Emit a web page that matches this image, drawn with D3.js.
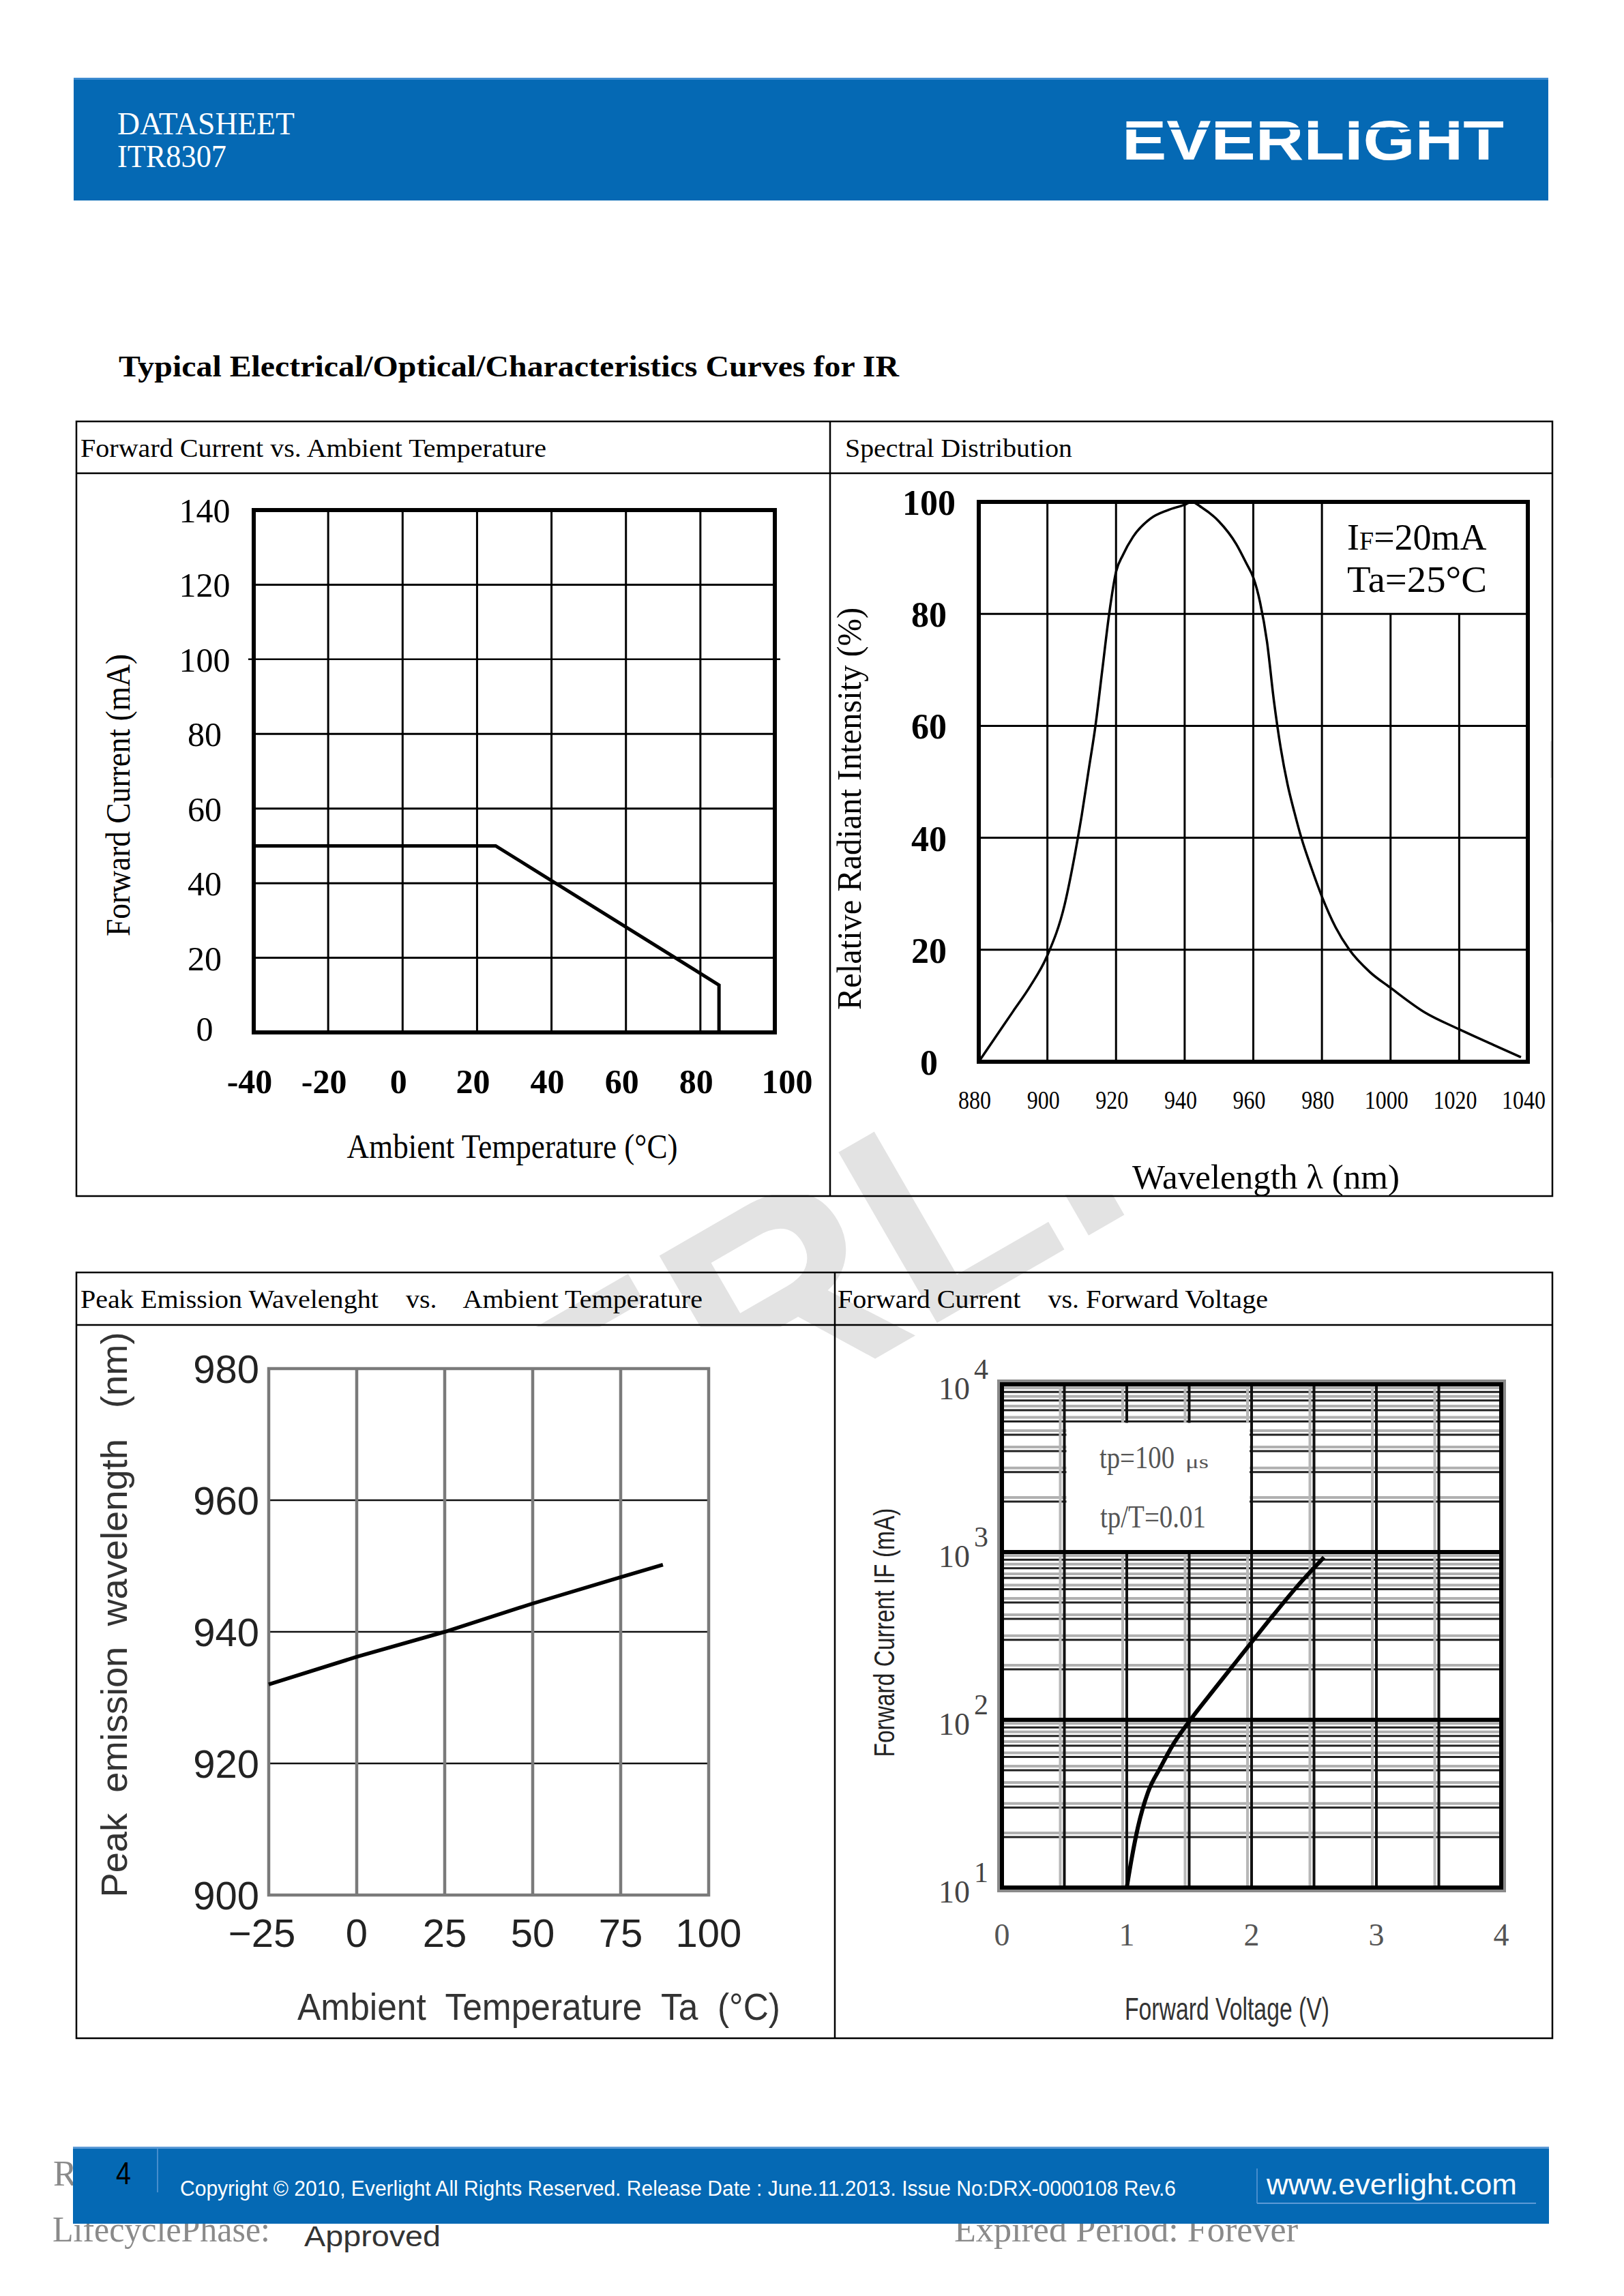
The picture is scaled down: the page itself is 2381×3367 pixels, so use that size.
<!DOCTYPE html>
<html><head><meta charset="utf-8">
<script src="https://cdn.jsdelivr.net/npm/d3@7"></script>
<style>body{margin:0;background:#fff}svg{display:block}text{white-space:pre}</style>
</head><body>
<svg id="page" width="2381" height="3367" xmlns="http://www.w3.org/2000/svg"></svg>
<script>
// ---------------- DATA ----------------
// Chart 1: Forward Current vs. Ambient Temperature
const fcTempTicksX = [-40, -20, 0, 20, 40, 60, 80, 100];
const fcTempTicksY = [0, 20, 40, 60, 80, 100, 120, 140];
const fcTempCurve = [[-40, 50], [25, 50], [85, 12.7], [85, 0]];
// Chart 2: Spectral Distribution
const specTicksX = [880, 900, 920, 940, 960, 980, 1000, 1020, 1040];
const specTicksY = [0, 20, 40, 60, 80, 100];
const specWl  = [880, 885, 890, 895, 900, 905, 908, 910, 912, 914, 916, 918, 920, 922, 925, 930, 935, 940, 942, 945, 950, 955, 958, 960, 962, 964, 966, 968, 970, 972, 974, 977, 980, 984, 988, 994, 1000, 1010, 1020, 1030, 1038];
const specVal = [0, 4.5, 9, 13.5, 19, 28, 37, 44, 52, 60, 70, 80, 87.5, 90.5, 93.8, 97, 98.5, 99.5, 100, 99, 96.5, 92.5, 89, 86.5, 82, 75, 64.5, 56, 49.5, 44.5, 40, 34.5, 29.5, 24, 20, 16, 13.2, 8.8, 5.8, 3, 0.8];
const specNote = ["IF=20mA", "Ta=25°C"];
// Chart 3: Peak Emission Wavelength vs. Ambient Temperature
const peakTicksX = [-25, 0, 25, 50, 75, 100];
const peakTicksY = [900, 920, 940, 960, 980];
const peakTemp = [-25, 0, 25, 50, 75, 87];
const peakWl   = [932, 936.2, 940, 944.3, 948.3, 950.2];
// Chart 4: Forward Current vs. Forward Voltage
const ivTicksX = [0, 1, 2, 3, 4];
const ivGridX = [0.5, 1, 1.5, 2, 2.5, 3, 3.5];
const ivDecades = [10, 100, 1000, 10000];
const ivVolt = [1.0, 1.04, 1.09, 1.17, 1.27, 1.37, 1.51, 1.71, 1.87, 2.0, 2.17, 2.37, 2.58];
const ivCurr = [10, 15, 23, 37, 52, 71, 100, 155, 219, 290, 417, 630, 930];
const ivNote = ["tp=100", "μs", "tp/T=0.01"];

// ---------------- PAGE ----------------
const SERIF = "'Liberation Serif','Times New Roman',serif";
const SANS = "'Liberation Sans',Arial,sans-serif";
const BLUE = "#0569b4";
const svg = d3.select("#page");
svg.append("rect").attr("width", 2381).attr("height", 3367).attr("fill", "#fff");

function T(g, x, y, s, o) {
  const t = g.append("text").attr("x", x).attr("y", y).text(s)
    .attr("font-family", o.ff || SERIF).attr("font-size", o.fs)
    .attr("fill", o.fill || "#000");
  if (o.fw) t.attr("font-weight", o.fw);
  if (o.anchor) t.attr("text-anchor", o.anchor);
  if (o.len) t.attr("textLength", o.len).attr("lengthAdjust", o.adj || "spacingAndGlyphs");
  if (o.rot) t.attr("transform", `rotate(-90,${x},${y})`);
  return t;
}
function L(g, x1, y1, x2, y2, stroke, w) {
  return g.append("line").attr("x1", x1).attr("y1", y1).attr("x2", x2).attr("y2", y2)
    .attr("stroke", stroke).attr("stroke-width", w);
}

// watermark (clipped to the table area)
const defs = svg.append("defs");
defs.append("clipPath").attr("id", "wmclip").append("rect")
  .attr("x", 112).attr("y", 618).attr("width", 2164).attr("height", 2371);
svg.append("g").attr("clip-path", "url(#wmclip)")
  .append("text").attr("transform", "translate(359,2526) rotate(-30)")
  .attr("font-family", SANS).attr("font-weight", "bold").attr("font-size", 420)
  .attr("fill", "#e3e3e3").text("EVERLIGHT");

// white image areas (cover watermark)
const bg = svg.append("g").attr("fill", "#fff");
bg.append("rect").attr("x", 115).attr("y", 697).attr("width", 1099).attr("height", 1055);
bg.append("rect").attr("x", 1340).attr("y", 697).attr("width", 933).attr("height", 1055);
bg.append("rect").attr("x", 115).attr("y", 1946).attr("width", 1060).attr("height", 1040);
bg.append("rect").attr("x", 1330).attr("y", 2012).attr("width", 943).attr("height", 974);

// header band
svg.append("rect").attr("x", 108).attr("y", 114).attr("width", 2162).attr("height", 180).attr("fill", BLUE);
svg.append("rect").attr("x", 108).attr("y", 114).attr("width", 2162).attr("height", 3).attr("fill", "#3d8bd0");
T(svg, 172, 197, "DATASHEET", {fs: 47, fill: "#fff", len: 260});
T(svg, 172, 245, "ITR8307", {fs: 47, fill: "#fff", len: 160});
T(svg, 1645, 234, "EVERLIGHT", {ff: SANS, fw: "bold", fs: 82, fill: "#fff", len: 560});
svg.append("rect").attr("x", 1640).attr("y", 187).attr("width", 570).attr("height", 3).attr("fill", BLUE);

// title
T(svg, 174, 552, "Typical Electrical/Optical/Characteristics Curves for IR", {fs: 44, fw: "bold", len: 1144});

// tables
const tb = svg.append("g").attr("fill", "none").attr("stroke", "#000").attr("stroke-width", 2.5);
tb.append("rect").attr("x", 112).attr("y", 618).attr("width", 2164).attr("height", 1136);
L(tb, 112, 694, 2276, 694, "#000", 2.5); L(tb, 1217, 618, 1217, 1754, "#000", 2.5);
tb.append("rect").attr("x", 112).attr("y", 1866).attr("width", 2164).attr("height", 1123);
L(tb, 112, 1943, 2276, 1943, "#000", 2.5); L(tb, 1224, 1866, 1224, 2989, "#000", 2.5);
T(svg, 118, 670, "Forward Current vs. Ambient Temperature", {fs: 37, len: 683});
T(svg, 1239, 670, "Spectral Distribution", {fs: 37, len: 333});
T(svg, 118, 1918, "Peak Emission Wavelenght    vs.    Ambient Temperature", {fs: 37, len: 912});
T(svg, 1228, 1918, "Forward Current    vs. Forward Voltage", {fs: 37, len: 631});

// ---------------- CHART 1 ----------------
{
  const g = svg.append("g");
  const x = d3.scaleLinear().domain([-40, 100]).range([372, 1136]);
  const y = d3.scaleLinear().domain([0, 140]).range([1514, 748]);
  g.selectAll(".vg").data(fcTempTicksX.slice(1, -1)).join("line")
    .attr("x1", d => x(d)).attr("x2", d => x(d)).attr("y1", y(140)).attr("y2", y(0))
    .attr("stroke", "#000").attr("stroke-width", 3);
  g.selectAll(".hg").data(fcTempTicksY.slice(1, -1)).join("line")
    .attr("x1", d => d === 100 ? x(-40) - 8 : x(-40)).attr("x2", d => d === 100 ? x(100) + 8 : x(100))
    .attr("y1", d => y(d)).attr("y2", d => y(d))
    .attr("stroke", "#000").attr("stroke-width", d => d === 100 ? 2.5 : 3);
  g.append("rect").attr("x", x(-40)).attr("y", y(140)).attr("width", x(100) - x(-40)).attr("height", y(0) - y(140))
    .attr("fill", "none").attr("stroke", "#000").attr("stroke-width", 6);
  g.append("path").datum(fcTempCurve).attr("d", d3.line().x(d => x(d[0])).y(d => y(d[1])))
    .attr("fill", "none").attr("stroke", "#000").attr("stroke-width", 5);
  g.selectAll(".yl").data(fcTempTicksY).join("text").attr("x", 300).attr("y", d => y(d) + (d === 0 ? 12 : 18))
    .attr("text-anchor", "middle").attr("font-family", SERIF).attr("font-size", 50).text(d => d);
  g.selectAll(".xl").data(fcTempTicksX).join("text").attr("x", d => x(d) + (d === 100 ? 18 : -6)).attr("y", 1603)
    .attr("text-anchor", "middle").attr("font-family", SERIF).attr("font-weight", "bold").attr("font-size", 50).text(d => d);
  T(g, 190, 1166, "Forward Current (mA)", {fs: 50, anchor: "middle", len: 414, rot: true});
  T(g, 751, 1698, "Ambient Temperature (°C)", {fs: 50, anchor: "middle", len: 485});
}

// ---------------- CHART 2 ----------------
{
  const g = svg.append("g");
  const x = d3.scaleLinear().domain([880, 1040]).range([1435, 2240]);
  const y = d3.scaleLinear().domain([0, 100]).range([1557, 736]);
  g.selectAll(".vg").data(specTicksX.slice(1, -1)).join("line")
    .attr("x1", d => x(d)).attr("x2", d => x(d)).attr("y1", d => d > 980 ? y(80) : y(100)).attr("y2", y(0))
    .attr("stroke", "#000").attr("stroke-width", 3);
  g.selectAll(".hg").data(specTicksY.slice(1, -1)).join("line")
    .attr("x1", x(880)).attr("x2", x(1040)).attr("y1", d => y(d)).attr("y2", d => y(d))
    .attr("stroke", "#000").attr("stroke-width", 3);
  g.append("rect").attr("x", x(880)).attr("y", y(100)).attr("width", x(1040) - x(880)).attr("height", y(0) - y(100))
    .attr("fill", "none").attr("stroke", "#000").attr("stroke-width", 6);
  const pts = specWl.map((w, i) => [w, specVal[i]]);
  g.append("path").datum(pts).attr("d", d3.line().curve(d3.curveMonotoneX).x(d => x(d[0])).y(d => y(d[1])))
    .attr("fill", "none").attr("stroke", "#000").attr("stroke-width", 3.5);
  const n1 = g.append("text").attr("x", 1975).attr("y", 806).attr("font-family", SERIF).attr("font-size", 54);
  n1.append("tspan").text(specNote[0].slice(0, 1));
  n1.append("tspan").attr("font-size", 38).text(specNote[0].slice(1, 2));
  n1.append("tspan").text(specNote[0].slice(2));
  T(g, 1975, 868, specNote[1], {fs: 54, len: 205});
  g.selectAll(".yl").data(specTicksY).join("text").attr("x", 1362).attr("y", d => y(d) + 19)
    .attr("text-anchor", "middle").attr("font-family", SERIF).attr("font-weight", "bold").attr("font-size", 52).text(d => d);
  g.selectAll(".xl").data(specTicksX).join("text").attr("x", d => x(d) - 6).attr("y", 1626)
    .attr("text-anchor", "middle").attr("font-family", SERIF).attr("font-size", 38)
    .attr("textLength", d => String(d).length * 16).attr("lengthAdjust", "spacingAndGlyphs").text(d => d);
  T(g, 1262, 1186, "Relative Radiant Intensity (%)", {fs: 50, anchor: "middle", len: 590, rot: true});
  T(g, 1856, 1743, "Wavelength λ (nm)", {fs: 50, anchor: "middle", len: 392});
}

// ---------------- CHART 3 ----------------
{
  const g = svg.append("g");
  const x = d3.scaleLinear().domain([-25, 100]).range([394, 1039]);
  const y = d3.scaleLinear().domain([900, 980]).range([2779, 2007]);
  g.selectAll(".hg").data(peakTicksY.slice(1, -1)).join("line")
    .attr("x1", x(-25)).attr("x2", x(100)).attr("y1", d => y(d)).attr("y2", d => y(d))
    .attr("stroke", "#111").attr("stroke-width", 2.5);
  g.selectAll(".vg").data(peakTicksX.slice(1, -1)).join("line")
    .attr("x1", d => x(d)).attr("x2", d => x(d)).attr("y1", y(980)).attr("y2", y(900))
    .attr("stroke", "#7a7a7a").attr("stroke-width", 4.5);
  g.append("rect").attr("x", x(-25)).attr("y", y(980)).attr("width", x(100) - x(-25)).attr("height", y(900) - y(980))
    .attr("fill", "none").attr("stroke", "#7a7a7a").attr("stroke-width", 4.5);
  const pts = peakTemp.map((t, i) => [t, peakWl[i]]);
  g.append("path").datum(pts).attr("d", d3.line().x(d => x(d[0])).y(d => y(d[1])))
    .attr("fill", "none").attr("stroke", "#000").attr("stroke-width", 5.5);
  g.selectAll(".yl").data(peakTicksY).join("text").attr("x", 380).attr("y", d => y(d) + 21)
    .attr("text-anchor", "end").attr("font-family", SANS).attr("font-size", 58).attr("fill", "#222").text(d => d);
  g.selectAll(".xl").data(peakTicksX).join("text").attr("x", d => x(d) + (d < 0 ? -10 : 0)).attr("y", 2855)
    .attr("text-anchor", "middle").attr("font-family", SANS).attr("font-size", 58).attr("fill", "#222")
    .text(d => d < 0 ? "\u2212" + Math.abs(d) : d);
  T(g, 186, 2368, "Peak  emission  wavelength   (nm)", {ff: SANS, fs: 54, anchor: "middle", len: 829, fill: "#333", rot: true});
  T(g, 790, 2962, "Ambient  Temperature  Ta  (°C)", {ff: SANS, fs: 56, anchor: "middle", len: 708, fill: "#333"});
}

// ---------------- CHART 4 ----------------
{
  const g = svg.append("g");
  const x = d3.scaleLinear().domain([0, 4]).range([1469, 2201]);
  const y = d3.scaleLog().domain([10, 10000]).range([2768, 2030]);
  const minor = [];
  ivDecades.slice(0, -1).forEach(p => { for (let k = 2; k < 10; k++) minor.push(k * p); });
  g.selectAll(".mg").data(minor).join("line")
    .attr("x1", x(0)).attr("x2", x(4)).attr("y1", d => y(d) - 6).attr("y2", d => y(d) - 6)
    .attr("stroke", "#b0b0b0").attr("stroke-width", 4);
  g.selectAll(".md").data(minor).join("line")
    .attr("x1", x(0)).attr("x2", x(4)).attr("y1", d => y(d)).attr("y2", d => y(d))
    .attr("stroke", "#222").attr("stroke-width", 3);
  g.selectAll(".vgg").data(ivGridX).join("line")
    .attr("x1", d => x(d) - 6).attr("x2", d => x(d) - 6).attr("y1", y(10000)).attr("y2", y(10))
    .attr("stroke", "#b8b8b8").attr("stroke-width", 4);
  g.selectAll(".vg").data(ivGridX).join("line")
    .attr("x1", d => x(d)).attr("x2", d => x(d)).attr("y1", y(10000)).attr("y2", y(10))
    .attr("stroke", "#111").attr("stroke-width", 4);
  g.selectAll(".dg").data(ivDecades.slice(1, -1)).join("line")
    .attr("x1", x(0)).attr("x2", x(4)).attr("y1", d => y(d)).attr("y2", d => y(d))
    .attr("stroke", "#000").attr("stroke-width", 6);
  // annotation box
  g.append("rect").attr("x", x(0.5) + 3).attr("y", y(6000) + 2).attr("width", x(2) - x(0.5) - 6).attr("height", y(1000) - y(6000) - 5)
    .attr("fill", "#fff");
  g.append("rect").attr("x", x(0) - 5).attr("y", y(10000) - 5).attr("width", x(4) - x(0) + 10).attr("height", y(10) - y(10000) + 10)
    .attr("fill", "none").attr("stroke", "#8a8a8a").attr("stroke-width", 4);
  g.append("rect").attr("x", x(0)).attr("y", y(10000)).attr("width", x(4) - x(0)).attr("height", y(10) - y(10000))
    .attr("fill", "none").attr("stroke", "#000").attr("stroke-width", 6);
  const pts = ivVolt.map((v, i) => [v, ivCurr[i]]);
  g.append("path").datum(pts).attr("d", d3.line().curve(d3.curveMonotoneX).x(d => x(d[0])).y(d => y(d[1])))
    .attr("fill", "none").attr("stroke", "#000").attr("stroke-width", 6);
  T(g, 1612, 2153, ivNote[0], {fs: 46, fill: "#555", len: 110});
  T(g, 1738, 2153, ivNote[1], {fs: 28, fill: "#555", len: 34});
  T(g, 1613, 2240, ivNote[2], {fs: 46, fill: "#555", len: 155});
  const yl = g.selectAll(".yl").data(ivDecades).join("text").attr("x", 1376).attr("y", d => y(d) + 22)
    .attr("font-family", SERIF).attr("font-size", 46).attr("fill", "#444");
  yl.append("tspan").text("10");
  yl.append("tspan").attr("dx", 6).attr("dy", -30).attr("font-size", 42).text(d => Math.round(Math.log10(d)));
  g.selectAll(".xl").data(ivTicksX).join("text").attr("x", d => x(d)).attr("y", 2853)
    .attr("text-anchor", "middle").attr("font-family", SERIF).attr("font-size", 46).attr("fill", "#555").text(d => d);
  T(g, 1311, 2394, "Forward Current IF (mA)", {ff: SANS, fs: 42, anchor: "middle", len: 365, fill: "#222", rot: true});
  T(g, 1799, 2962, "Forward Voltage (V)", {ff: SANS, fs: 46, anchor: "middle", len: 300, fill: "#333"});
}

// ---------------- FOOTER ----------------
T(svg, 78, 3205, "R", {fs: 52, fill: "#8a8a8a"});
T(svg, 77, 3287, "LifecyclePhase:", {fs: 52, fill: "#8a8a8a", len: 319});
T(svg, 1399, 3287, "Expired Period: Forever", {fs: 52, fill: "#8a8a8a", len: 504});
T(svg, 446, 3294, "Approved", {ff: SANS, fs: 42, fill: "#333", len: 200});
svg.append("rect").attr("x", 107).attr("y", 3148).attr("width", 2164).attr("height", 113).attr("fill", BLUE);
svg.append("rect").attr("x", 107).attr("y", 3148).attr("width", 2164).attr("height", 3).attr("fill", "#5c9ad6");
L(svg, 231, 3150, 231, 3215, "#5c9ad6", 1.5);
T(svg, 181, 3203, "4", {ff: SANS, fs: 46, anchor: "middle", len: 22});
T(svg, 264, 3220, "Copyright © 2010, Everlight All Rights Reserved. Release Date : June.11.2013. Issue No:DRX-0000108 Rev.6", {ff: SANS, fs: 31, fill: "#fff", len: 1460});
T(svg, 1857, 3218, "www.everlight.com", {ff: SANS, fs: 43, fill: "#fff", len: 367});
L(svg, 1843, 3231, 2252, 3231, "#5c9ad6", 2);
L(svg, 1843, 3180, 1843, 3231, "#5c9ad6", 1.5);
</script>
</body></html>
